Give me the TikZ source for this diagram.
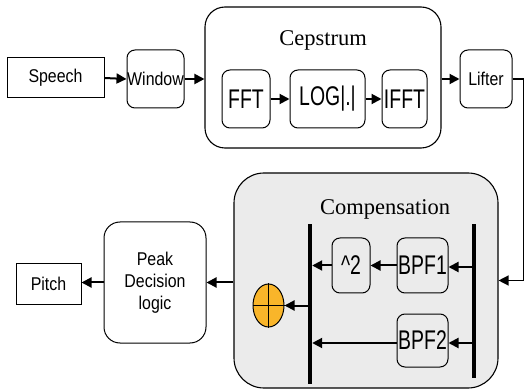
\documentclass[tikz,border=0pt]{standalone}
\usepackage{fontspec}
\setmainfont{Liberation Serif}
\newfontfamily\boxfont[FakeStretch=0.86]{Liberation Sans}
\newfontfamily\blockfont[FakeStretch=0.72]{Liberation Sans}
\usetikzlibrary{arrows.meta,shapes.geometric}
\definecolor{addfill}{RGB}{249,181,42}
\definecolor{panelgray}{RGB}{235,235,235}
\tikzset{
  plainbox/.style={draw, line width=1pt, inner sep=0pt,
    font=\boxfont\fontsize{18.5}{22}\selectfont},
  roundbox/.style={plainbox, rounded corners=8pt},
  blockbox/.style={draw, line width=1pt, inner sep=0pt, rounded corners=8pt,
    font=\blockfont\fontsize{27}{30}\selectfont},
  groupbox/.style={draw, line width=1.1pt, inner sep=0pt},
  grouptitle/.style={font=\fontsize{22.5}{26}\selectfont, inner sep=0pt},
  bar/.style={fill=black, inner sep=0pt, minimum width=4pt},
  arr/.style={-{Triangle[length=10pt,width=10pt]}, line width=2pt},
  thinarr/.style={-{Triangle[length=10pt,width=10pt]}, line width=1.3pt},
}
\begin{document}
\begin{tikzpicture}[x=1pt,y=-1pt]
\useasboundingbox (0,0) rectangle (525,390);

% --- top chain: speech analysis
\node[plainbox, minimum width=97pt, minimum height=40pt] (speech) at (55.5,78) {Speech};
\node[roundbox, minimum width=57pt, minimum height=58pt] (window) at (155.5,79) {Window};

\node[groupbox, rounded corners=20pt, minimum width=236pt, minimum height=141pt] (cep) at (323,77.5) {};
\node[grouptitle] (ceptitle) at (323,40) {Cepstrum};
\node[blockbox, minimum width=48pt, minimum height=58pt] (fft) at (246,99) {FFT};
\node[blockbox, minimum width=75pt, minimum height=58pt] (log) at (327.5,99) {LOG|.|};
\node[blockbox, minimum width=45pt, minimum height=58pt] (ifft) at (404.5,99) {IFFT};

\node[roundbox, minimum width=52pt, minimum height=58pt] (lifter) at (486,79) {Lifter};

\draw[arr] (speech.east) -- (window.west);
\draw[arr] (window.east) -- (window.east -| cep.west);
\draw[arr] (fft.east) -- (log.west);
\draw[arr] (log.east) -- (ifft.west);
\draw[arr] (cep.east |- lifter.west) -- (lifter.west);

% --- compensation panel
\node[groupbox, fill=panelgray, rounded corners=30pt, minimum width=264pt, minimum height=215pt] (comp) at (366,280.5) {};
\node[grouptitle] (comptitle) at (385,209) {Compensation};

\node[bar, minimum height=160pt] (barL) at (310,304) {};
\node[bar, minimum height=154pt] (barR) at (474,301) {};

\node[blockbox, minimum width=38pt, minimum height=55pt] (sq) at (351,265.5) {\^{}2};
\node[blockbox, minimum width=51pt, minimum height=55pt] (bpfa) at (422.5,265.5) {BPF1};
\node[blockbox, minimum width=51pt, minimum height=53pt] (bpfb) at (422.5,340.5) {BPF2};

\node[ellipse, draw, line width=1pt, fill=addfill, inner sep=0pt,
      minimum width=31pt, minimum height=43pt] (add) at (268.5,305.5) {};
\draw[line width=1pt] (add.north) -- (add.south) (add.west) -- (add.east);

\coordinate (inA) at (barR.west |- 0,267);
\coordinate (inB) at (barR.west |- 0,343);
\draw[arr] (inA) -- (inA -| bpfa.east);
\draw[arr] (bpfa.west) -- (sq.east);
\draw[arr] (sq.west) -- (sq.west -| barL.east);
\draw[arr] (inB) -- (inB -| bpfb.east);
\draw[arr] (bpfb.west |- inB) -- (inB -| barL.east);
\draw[arr] (barL.west |- add.east) -- (add.east);

% --- lifter output loops down into the compensation panel
\coordinate (turn) at (523.5,79);
\draw[thinarr] (lifter.east) -- (turn) |- (comp.east);

% --- bottom chain: decision and output
\node[roundbox, align=center, rounded corners=16pt, minimum width=102pt, minimum height=121pt] (peak) at (155,282.5) {Peak\\Decision\\logic};
\node[plainbox, minimum width=65pt, minimum height=41pt] (pitch) at (48.5,284) {Pitch};

\draw[arr] (comp.west |- peak.east) -- (peak.east);
\draw[arr] (peak.west) -- (pitch.east |- peak.west);
\end{tikzpicture}
\end{document}
